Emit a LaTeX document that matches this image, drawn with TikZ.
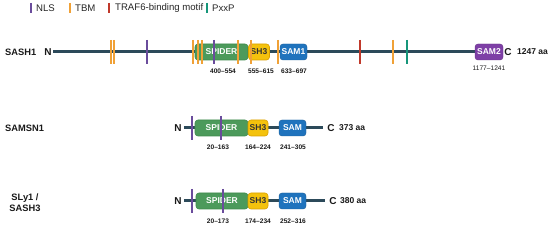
\documentclass[tikz,border=0pt]{standalone}
\usepackage{fontspec}
\setmainfont{Liberation Sans}
\usetikzlibrary{backgrounds}
\definecolor{bbone}{HTML}{2C4A5A}
\definecolor{spidercol}{HTML}{4C9A5B}
\definecolor{spiderbd}{HTML}{3E8A4C}
\definecolor{shcol}{HTML}{F4C20D}
\definecolor{shbd}{HTML}{D9A000}
\definecolor{samcol}{HTML}{1F73BD}
\definecolor{sam2col}{HTML}{7E3FA6}
\definecolor{nlscol}{HTML}{6A4C9C}
\definecolor{tbmcol}{HTML}{F0A137}
\definecolor{trafcol}{HTML}{C0392B}
\definecolor{pxxpcol}{HTML}{16967A}
\tikzset{
  bbline/.style={draw=bbone, line width=3pt},
  dom/.style={rounded corners=3pt, inner sep=0pt, minimum height=16pt, text=white,
    font=\fontsize{8.5}{9}\selectfont\bfseries},
  spiderbox/.style={dom, fill=spidercol, draw=spiderbd, line width=0.6pt},
  shbox/.style={dom, fill=shcol, draw=shbd, line width=0.6pt, text=black!80},
  sambox/.style={dom, fill=samcol, draw=samcol!80!black, line width=0.4pt},
  sam2box/.style={dom, fill=sam2col, draw=sam2col!80!black, line width=0.4pt},
  nlstick/.style={draw=nlscol, line width=1.8pt},
  tbmtick/.style={draw=tbmcol, line width=1.8pt},
  traftick/.style={draw=trafcol, line width=1.8pt},
  pxxptick/.style={draw=pxxpcol, line width=1.8pt},
  rowname/.style={font=\fontsize{9.3}{11}\selectfont\bfseries, text=black!90, inner sep=0pt},
  term/.style={font=\fontsize{10}{10}\selectfont\bfseries, text=black!90, inner sep=0pt},
  aalab/.style={font=\fontsize{8.5}{9}\selectfont\bfseries, text=black!90, inner sep=0pt, anchor=west},
  poslab/.style={font=\fontsize{6.6}{7}\selectfont\bfseries, text=black!90, inner sep=0pt},
  leglab/.style={font=\fontsize{9.6}{11}\selectfont, text=black!85, inner sep=0pt, anchor=west}
}
\begin{document}
\begin{tikzpicture}[x=1pt,y=-1pt]
\useasboundingbox (0,0) rectangle (550,229);

% ---------- legend ----------
\draw[nlstick] (31,3) -- (31,13);
\node[leglab] (lnls) at (36,8) {NLS};
\draw[tbmtick] (70,3) -- (70,13);
\node[leglab] (ltbm) at (75,8) {TBM};
\draw[traftick] (109,3) -- (109,13);
\node[leglab] (ltraf) at (115,8) {TRAF6-binding motif};
\draw[pxxptick] (207,3) -- (207,13);
\node[leglab] (lpxxp) at (212,8) {PxxP};

% ---------- SASH1 ----------
\node[rowname, anchor=west] (nsash1) at (5,52) {SASH1};
\node[term] (aN) at (48,52) {N};
\node[spiderbox, minimum width=53pt] (aspider) at (221.5,52) {SPIDER};
\node[shbox, minimum width=21pt] (ash3) at (259,52) {SH3};
\node[sambox, minimum width=27pt] (asam1) at (293.5,52) {SAM1};
\node[sam2box, minimum width=28pt] (asam2) at (489,52) {SAM2};
\node[term] (aC) at (508,52) {C};
\node[aalab] (aaa) at (517,52) {1247 aa};
\begin{scope}[on background layer]
\draw[bbline] (aN.east) ++(1.5,0) coordinate (aS) -- (asam2.west);
\end{scope}
\foreach \x in {111,114,193,198,202,238,251,278,393}{\draw[tbmtick] (\x,40) -- (\x,64);}
\foreach \x in {147,214}{\draw[nlstick] (\x,40) -- (\x,64);}
\draw[traftick] (360,40) -- (360,64);
\draw[pxxptick] (407,40) -- (407,64);
\node[poslab] (ap1) at (223,71) {400\textendash554};
\node[poslab] (ap2) at (261,71) {555\textendash615};
\node[poslab] (ap3) at (294,71) {633\textendash697};
\node[poslab, font=\fontsize{6.6}{7}\selectfont] (ap4) at (489,68) {1177\textendash1241};

% ---------- SAMSN1 ----------
\node[rowname, anchor=west] (nsamsn1) at (5,128) {SAMSN1};
\node[term] (bN) at (178,128) {N};
\node[spiderbox, minimum width=53pt] (bspider) at (221.5,128) {SPIDER};
\node[shbox, minimum width=20pt] (bsh3) at (258,128) {SH3};
\node[sambox, minimum width=27pt] (bsam) at (292.5,128) {SAM};
\coordinate (bE) at (323,128);
\node[term] (bC) at (331,128) {C};
\node[aalab] (baa) at (339,128) {373 aa};
\begin{scope}[on background layer]
\draw[bbline] (bN.east) ++(2,0) -- (bE);
\end{scope}
\foreach \x in {192,221}{\draw[nlstick] (\x,116) -- (\x,140);}
\node[poslab] (bp1) at (218,147) {20\textendash163};
\node[poslab] (bp2) at (258,147) {164\textendash224};
\node[poslab] (bp3) at (293,147) {241\textendash305};

% ---------- SLy1 / SASH3 ----------
\node[rowname, align=center] (nsly1) at (25,203) {SLy1 /\\SASH3};
\node[term] (cN) at (178,201) {N};
\node[spiderbox, minimum width=52pt] (cspider) at (222,201) {SPIDER};
\node[shbox, minimum width=20pt] (csh3) at (258,201) {SH3};
\node[sambox, minimum width=27pt] (csam) at (292.5,201) {SAM};
\coordinate (cE) at (325,201);
\node[term] (cC) at (333,201) {C};
\node[aalab] (caa) at (340,201) {380 aa};
\begin{scope}[on background layer]
\draw[bbline] (cN.east) ++(2,0) -- (cE);
\end{scope}
\foreach \x in {192,223}{\draw[nlstick] (\x,189) -- (\x,213);}
\node[poslab] (cp1) at (218,221) {20\textendash173};
\node[poslab] (cp2) at (258,221) {174\textendash234};
\node[poslab] (cp3) at (293,221) {252\textendash316};
\end{tikzpicture}
\end{document}
